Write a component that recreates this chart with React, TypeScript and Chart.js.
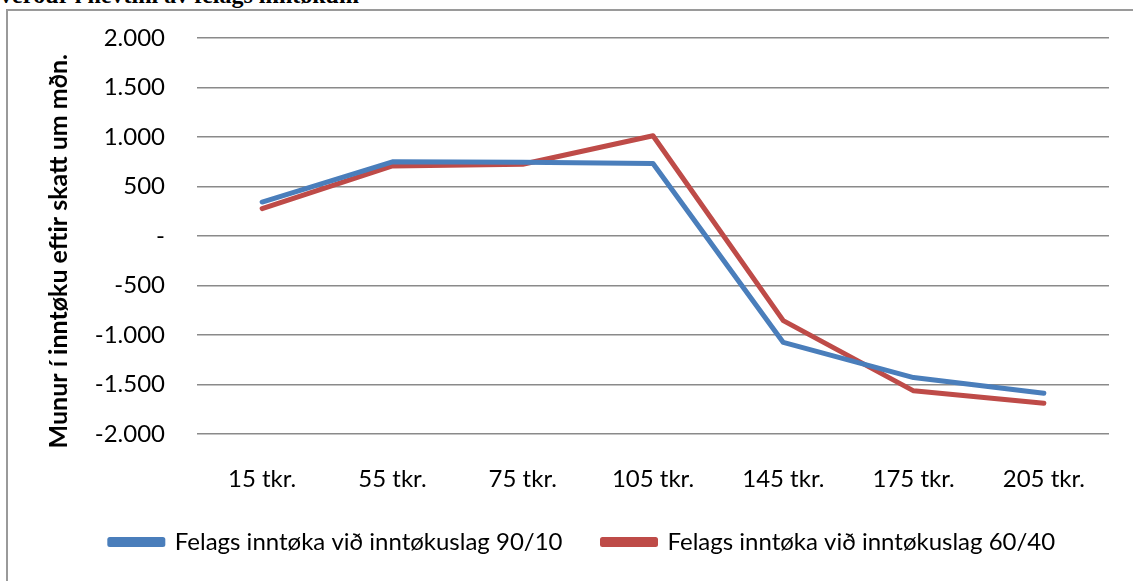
import React, { useEffect, useRef } from "react";
import { Chart, registerables } from "chart.js";

Chart.register(...registerables);

const categories = ["15 tkr.", "55 tkr.", "75 tkr.", "105 tkr.", "145 tkr.", "175 tkr.", "205 tkr."];
const series9010 = [343, 749, 745, 732, -1075, -1430, -1588];
const series6040 = [277, 708, 725, 1012, -855, -1564, -1689];
const seriesNames = ["Felags inntøka við inntøkuslag 90/10", "Felags inntøka við inntøkuslag 60/40"];
const yTitle = "Munur í inntøku eftir skatt um mðn.";
const pageTitle = "verður í nevtini av felags inntøkum";

const FONT = "Lato, 'Noto Sans', sans-serif";

function fmt(v: number): string {
  if (v === 0) return "-";
  const s = Math.abs(v).toString().replace(/\B(?=(\d{3})+(?!\d))/g, ".");
  return (v < 0 ? "-" : "") + s;
}

export default function App() {
  const ref = useRef<HTMLCanvasElement | null>(null);
  useEffect(() => {
    if (!ref.current) return;
    const chart = new Chart(ref.current, {
      type: "line",
      data: {
        labels: categories,
        datasets: [
          {
            label: seriesNames[0],
            data: series9010,
            borderColor: "#4a7ebb",
            backgroundColor: "#4a7ebb",
            borderWidth: 5,
            borderCapStyle: "round",
            borderJoinStyle: "round",
            pointRadius: 0,
            tension: 0,
          },
          {
            label: seriesNames[1],
            data: series6040,
            borderColor: "#be4b48",
            backgroundColor: "#be4b48",
            borderWidth: 5,
            borderCapStyle: "round",
            borderJoinStyle: "round",
            pointRadius: 0,
            tension: 0,
          },
        ],
      },
      options: {
        animation: false,
        responsive: false,
        maintainAspectRatio: false,
        layout: { padding: { left: 56, right: 24, top: 38, bottom: 17 } },
        plugins: {
          tooltip: { enabled: false },
          title: { display: false },
          legend: {
            position: "bottom",
            labels: {
              boxWidth: 53,
              boxHeight: 5,
              padding: 40,
              color: "#000",
              font: { family: FONT, size: 24 },
            },
          },
        },
        scales: {
          x: {
            offset: true,
            grid: { display: false, drawTicks: false },
            border: { display: false },
            ticks: { color: "#000", padding: 31, font: { family: FONT, size: 24 }, maxRotation: 0 },
            afterFit: (s: any) => {
              s.height = 56;
            },
          },
          y: {
            min: -2000,
            max: 2000,
            grid: { color: "#8a8a8a", lineWidth: 1.5, drawTicks: false },
            border: { display: false },
            ticks: {
              stepSize: 500,
              color: "#000",
              padding: 32,
              font: { family: FONT, size: 24 },
              callback: (v: any) => fmt(Number(v)),
            },
            title: {
              display: true,
              text: yTitle + "\u00a0\u00a0\u00a0\u00a0\u00a0",
              color: "#000",
              padding: { top: -10, bottom: 0 },
              font: { family: FONT, size: 25, weight: "bold", lineHeight: 1 },
            },
            afterFit: (s: any) => {
              s.width = 141;
              s.paddingTop = 0;
              s.paddingBottom = 0;
            },
          },
        },
      },
    });
    return () => chart.destroy();
  }, []);

  return (
    <div style={{ position: "fixed", left: 0, top: 0, width: 1133, height: 581, overflow: "hidden", background: "#fff" }}>
      <div
        style={{
          position: "absolute",
          left: 0,
          top: -17,
          fontFamily: "'Liberation Serif', 'Times New Roman', serif",
          fontWeight: "bold",
          fontSize: 24,
          lineHeight: "24px",
          whiteSpace: "nowrap",
          color: "#000",
        }}
      >
        {pageTitle}
      </div>
      <div
        style={{
          position: "absolute",
          left: 6,
          top: 9,
          width: 1200,
          height: 700,
          border: "2px solid #9a9a9a",
          boxSizing: "border-box",
        }}
      />
      <canvas ref={ref} width={1133} height={581} style={{ position: "absolute", left: 0, top: 0, width: 1133, height: 581 }} />
    </div>
  );
}
